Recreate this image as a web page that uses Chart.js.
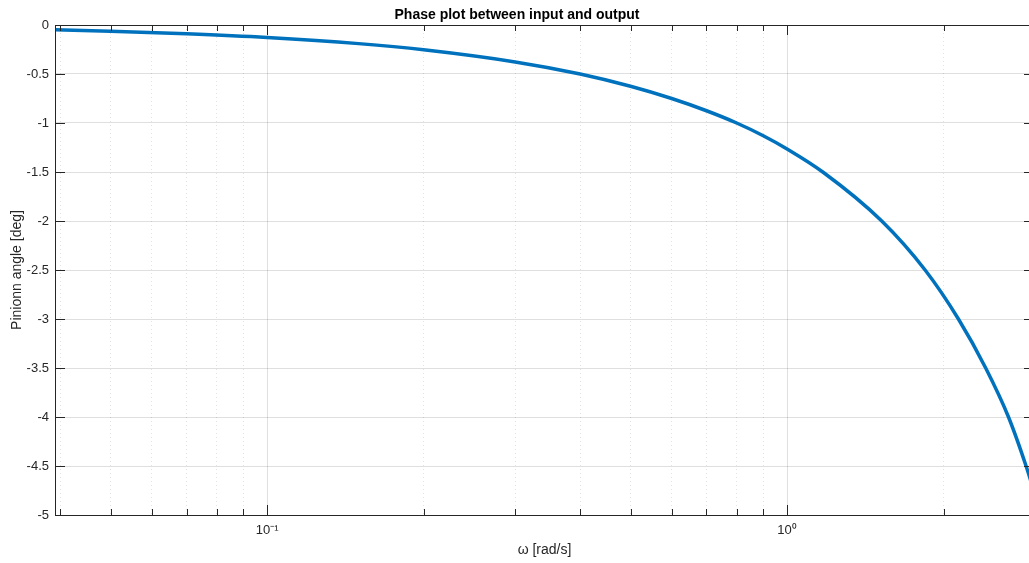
<!DOCTYPE html>
<html>
<head>
<meta charset="utf-8">
<script src="https://cdn.jsdelivr.net/npm/chart.js@4/dist/chart.umd.min.js"></script>
<style>
  html, body { margin: 0; padding: 0; background: #fff; overflow: hidden; }
  #chart_canvas { display: block; }
</style>
</head>
<body>
<canvas id="chart_canvas" width="1040" height="563"></canvas>
<script>
// values
var omega = [0.0391, 0.05, 0.07, 0.1, 0.15, 0.2, 0.3, 0.4, 0.5, 0.6, 0.7, 0.8, 0.9, 1.0,
             1.175, 1.521, 1.843, 2.136, 2.41, 2.666, 2.882, 2.985];
var phase = [-0.049, -0.063, -0.089, -0.127, -0.19, -0.253, -0.377, -0.5, -0.625, -0.75, -0.875, -1.0, -1.13, -1.265,
             -1.505, -2.0, -2.5, -3.0, -3.5, -4.0, -4.5, -4.76];
var xTicks = [0.04, 0.05, 0.06, 0.07, 0.08, 0.09, 0.1, 0.2, 0.3, 0.4, 0.5, 0.6, 0.7, 0.8, 0.9, 1, 2];
var xMajor = [0.1, 1];
var xLabels = {0.1: '10\u207B\u00B9', 1: '10\u2070'};
var xMin = 0.0391, xMax = 2.985;
var yMin = -5, yMax = 0, yStep = 0.5;

var axisColor = '#262626';
var gridColor = 'rgba(38,38,38,0.15)';
var fontFamily = '"Liberation Sans", Arial, Helvetica, sans-serif';

var points = [];
for (var i = 0; i < omega.length; i++)
    points.push({x: omega[i], y: phase[i]});

function isMajor(v) {
    return xMajor.some(function (m) { return Math.abs(m - v) < 1e-9; });
}

// matlab style box with inward ticks
var boxTicks = {
    id: 'boxTicks',
    afterDraw: function (chart) {
        var ctx = chart.ctx, a = chart.chartArea;
        var xs = chart.scales.x, ys = chart.scales.y;
        ctx.save();
        ctx.strokeStyle = axisColor;
        ctx.lineWidth = 1;
        ctx.beginPath();
        xTicks.forEach(function (v) {
            var px = Math.round(xs.getPixelForValue(v)) + 0.5;
            var len = isMajor(v) ? 10 : 6;
            ctx.moveTo(px, a.bottom); ctx.lineTo(px, a.bottom - len);
            ctx.moveTo(px, a.top); ctx.lineTo(px, a.top + len);
        });
        ys.ticks.forEach(function (t) {
            var py = Math.round(ys.getPixelForValue(t.value)) + 0.5;
            ctx.moveTo(a.left, py); ctx.lineTo(a.left + 10, py);
            ctx.moveTo(a.right, py); ctx.lineTo(a.right - 10, py);
        });
        ctx.stroke();
        ctx.strokeRect(Math.round(a.left) + 0.5, Math.round(a.top) + 0.5,
                       Math.round(a.right - a.left), Math.round(a.bottom - a.top));
        ctx.restore();
    }
};

var myChart = new Chart('chart_canvas', {
    type: 'scatter',
    data: {
        datasets: [{
            data: points,
            showLine: true,
            borderColor: '#0072BD',
            borderWidth: 3.5,
            pointRadius: 0,
            pointHoverRadius: 0,
            cubicInterpolationMode: 'monotone',
            fill: false
        }]
    },
    options: {
        responsive: false,
        animation: false,
        events: [],
        layout: { padding: { left: 0, right: 6, top: 0, bottom: 0 } },
        plugins: {
            legend: { display: false },
            tooltip: { enabled: false },
            title: {
                display: true,
                text: 'Phase plot between input and output',
                color: '#000',
                font: { family: fontFamily, size: 14, weight: 'bold', lineHeight: 1.2 },
                padding: { top: 7, bottom: 1.2 }
            }
        },
        scales: {
            x: {
                type: 'logarithmic',
                min: xMin,
                max: xMax,
                afterBuildTicks: function (axis) {
                    axis.ticks = xTicks.map(function (v) { return {value: v, major: isMajor(v)}; });
                },
                afterFit: function (axis) { axis.height = 48; },
                ticks: {
                    autoSkip: false,
                    maxRotation: 0,
                    padding: 8,
                    color: axisColor,
                    font: { family: fontFamily, size: 13 },
                    callback: function (value) { return xLabels[value] || ''; }
                },
                grid: {
                    drawTicks: false,
                    lineWidth: 1,
                    color: function (c) {
                        if (c.tick && !isMajor(c.tick.value)) return 'rgba(38,38,38,0.13)';
                        return gridColor;
                    }
                },
                border: {
                    display: false,
                    dash: function (c) {
                        if (c.tick && !isMajor(c.tick.value)) return [1, 3];
                        return [];
                    }
                },
                title: {
                    display: true,
                    text: '\u03C9 [rad/s]',
                    color: axisColor,
                    font: { family: fontFamily, size: 14, lineHeight: 1.2 },
                    padding: { top: 4, bottom: 4 }
                }
            },
            y: {
                min: yMin,
                max: yMax,
                afterFit: function (axis) { axis.width = 55; },
                ticks: {
                    stepSize: yStep,
                    padding: 6,
                    color: axisColor,
                    font: { family: fontFamily, size: 13 },
                    callback: function (value) { return String(Math.round(value * 10) / 10); }
                },
                grid: {
                    drawTicks: false,
                    lineWidth: 1,
                    color: gridColor
                },
                border: { display: false },
                title: {
                    display: true,
                    text: 'Pinionn angle [deg]',
                    color: axisColor,
                    font: { family: fontFamily, size: 14, lineHeight: 1.2 },
                    padding: { top: 9, bottom: 9 }
                }
            }
        }
    },
    plugins: [boxTicks]
});
</script>
</body>
</html>
